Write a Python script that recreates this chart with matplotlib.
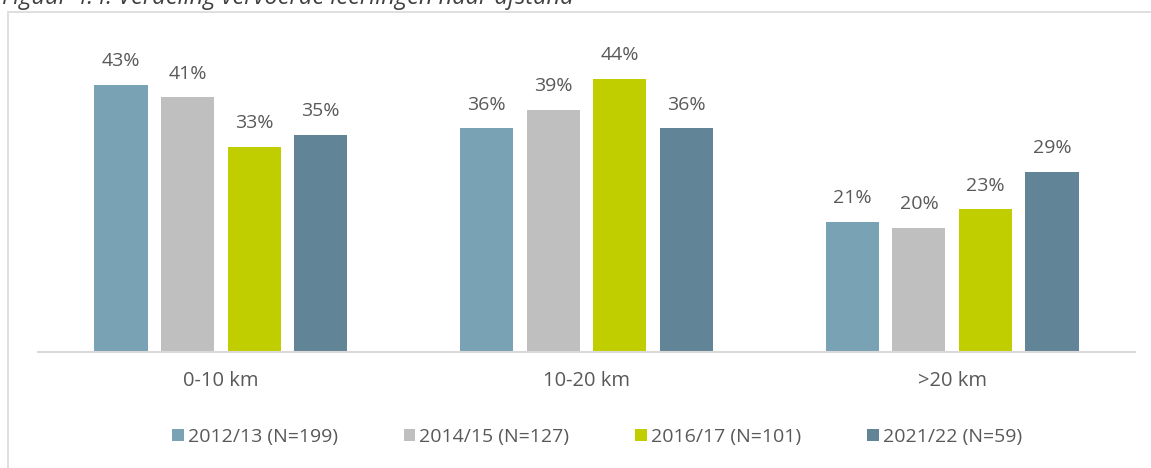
import numpy as np
import matplotlib.pyplot as plt
from matplotlib.patches import Rectangle

categories = ['0-10 km', '10-20 km', '>20 km']
series = ['2012/13 (N=199)', '2014/15 (N=127)', '2016/17 (N=101)', '2021/22 (N=59)']
values = [
    [43, 36, 21],
    [41, 39, 20],
    [33, 44, 23],
    [35, 36, 29],
]
colors = ['#79A3B5', '#BFBFBF', '#C0CE00', '#628497']

plt.rcParams['font.family'] = ['Open Sans', 'DejaVu Sans']
text_color = '#595959'

fig = plt.figure(figsize=(11.51, 4.68), dpi=100)

# outer frame (partly cut off like the reference)
fig.patches.append(Rectangle((8 / 1151, -0.1), 1.2, 1 - 12 / 468 + 0.1,
                             transform=fig.transFigure, fill=False,
                             edgecolor='#D9D9D9', linewidth=1.2))
fig.text(2 / 1151, 1 - 4 / 468, 'Figuur 4.4: Verdeling vervoerde leerlingen naar afstand',
         fontsize=17, style='italic', color='#404040', va='baseline', ha='left')

ax = fig.add_axes([38 / 1151, 1 - 352 / 468, 1097 / 1151, 310.5 / 468])
x = np.arange(len(categories))
width = 0.145
step = 0.182
for i, (name, vals) in enumerate(zip(series, values)):
    pos = x + (i - 1.5) * step
    bars = ax.bar(pos, vals, width, color=colors[i], label=name)
    for b, v in zip(bars, vals):
        ax.text(b.get_x() + b.get_width() / 2, v + 3.0, f'{v}%',
                ha='center', va='baseline', fontsize=14, color=text_color)

ax.set_xlim(-0.5, 2.5)
ax.set_ylim(0, 50)
ax.set_yticks([])
ax.set_xticks(x)
ax.set_xticklabels(categories, fontsize=14.5, color=text_color)
ax.tick_params(axis='x', length=0, pad=14)
for s in ['top', 'right', 'left']:
    ax.spines[s].set_visible(False)
ax.spines['bottom'].set_color('#D9D9D9')
ax.spines['bottom'].set_linewidth(1.5)

leg = fig.legend(loc='center', bbox_to_anchor=(597 / 1151, 1 - 437 / 468), ncol=4,
                 frameon=False, fontsize=14, handlelength=0.6, handleheight=0.6,
                 handletextpad=0.2, columnspacing=3.4)
for t in leg.get_texts():
    t.set_color(text_color)

fig.savefig('out.png', dpi=100)
